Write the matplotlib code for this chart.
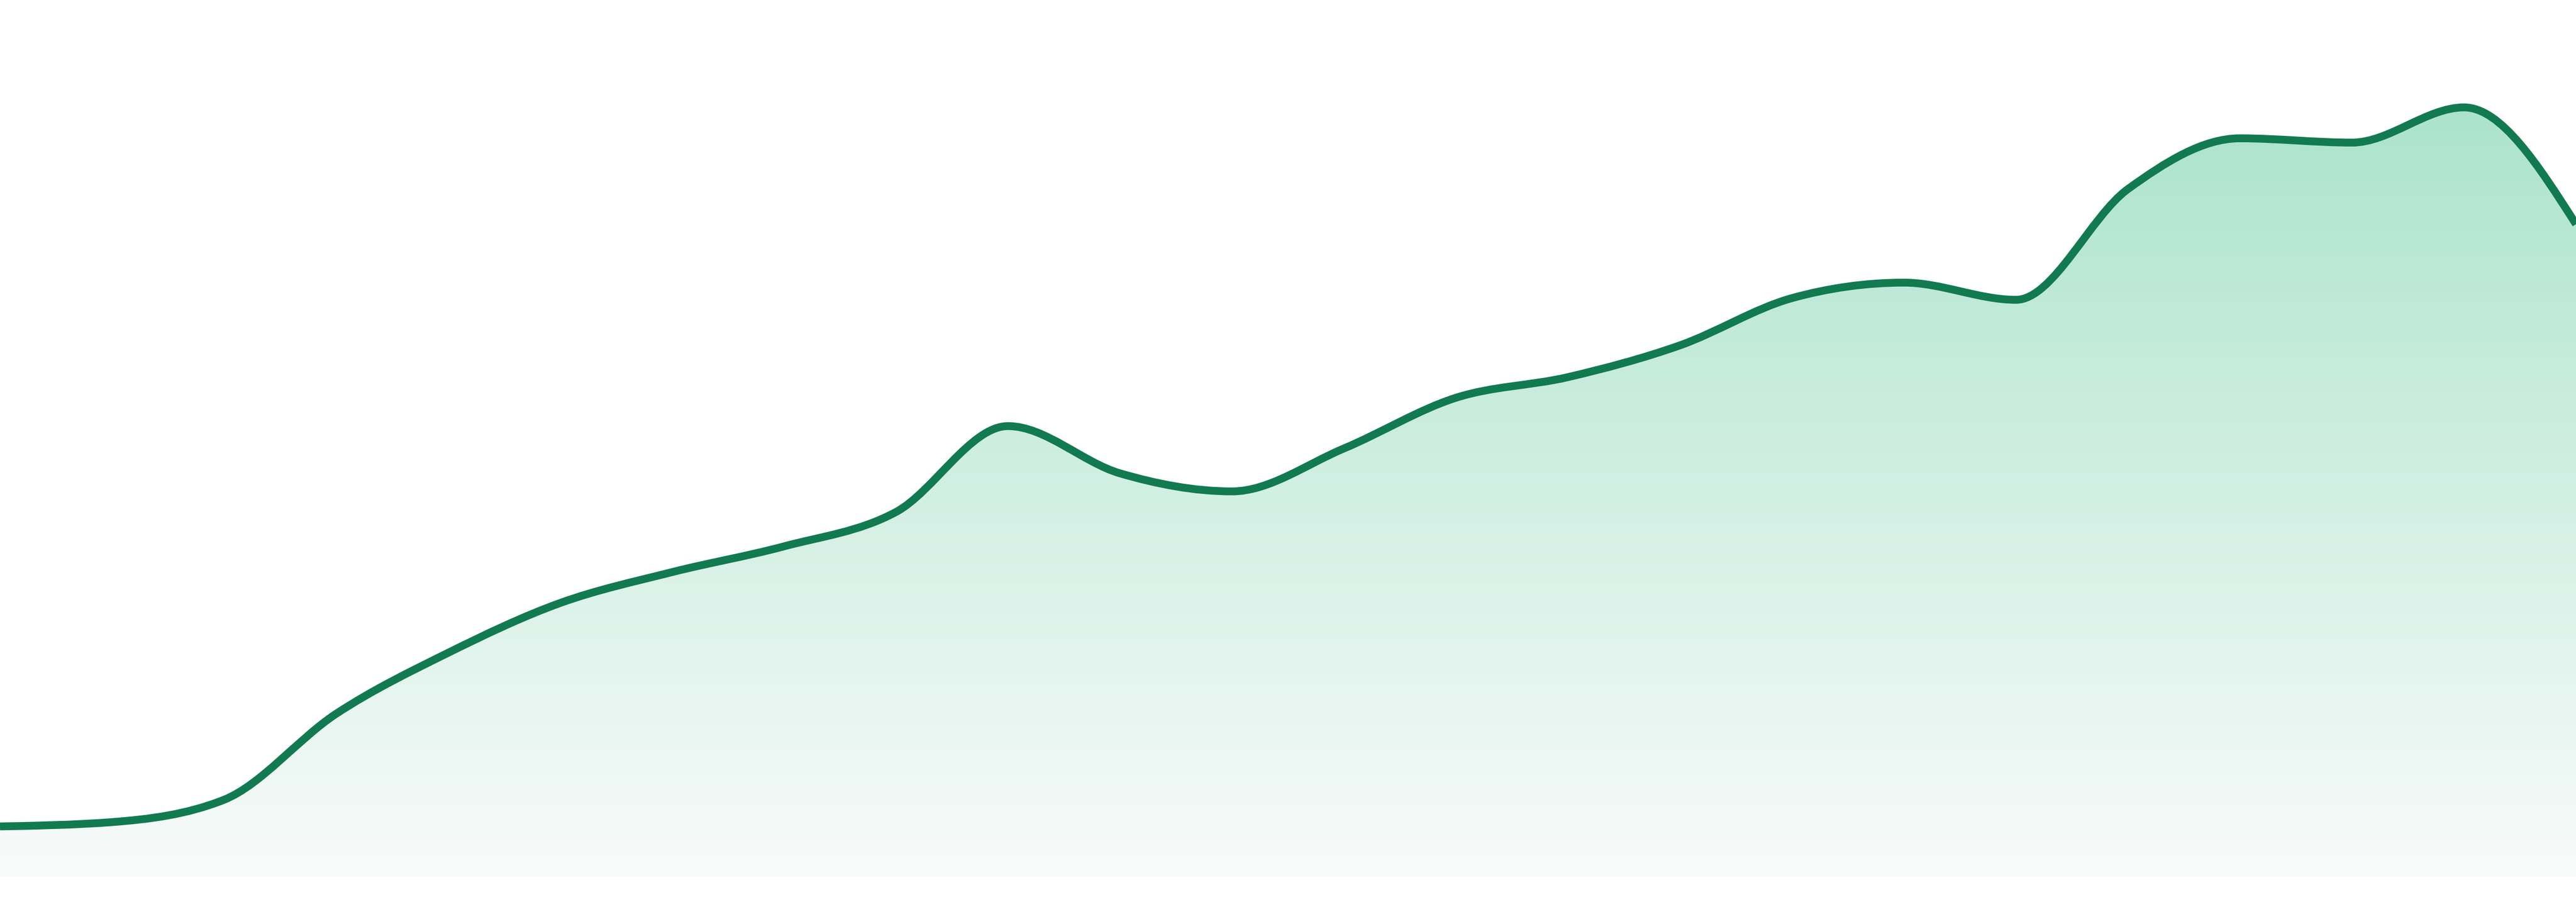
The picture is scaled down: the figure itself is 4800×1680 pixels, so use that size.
import numpy as np
import matplotlib
matplotlib.use("Agg")
import matplotlib.pyplot as plt
from matplotlib.path import Path
from matplotlib.patches import PathPatch
from matplotlib.colors import LinearSegmentedColormap

# ---- data ----
points = list(range(24))
values = [5.8, 6.3, 8.9, 18.9, 26.0, 31.8, 35.4, 38.4, 42.4, 52.4, 46.9, 44.8,
          49.8, 55.7, 58.1, 61.8, 67.3, 69.1, 67.1, 80.0, 85.9, 85.4, 89.5, 75.9]

line_color = "#117a50"
grad_top = "#a1e0c7"
grad_bottom = "#f8fbfa"

x = np.asarray(points, dtype=float)
y = np.asarray(values, dtype=float)


def monotone_tangents(x, y):
    n = len(x)
    t = np.zeros(n)
    for i in range(1, n - 1):
        h0 = x[i] - x[i - 1]
        h1 = x[i + 1] - x[i]
        s0 = (y[i] - y[i - 1]) / h0
        s1 = (y[i + 1] - y[i]) / h1
        p = (s0 * h1 + s1 * h0) / (h0 + h1)
        t[i] = (np.sign(s0) + np.sign(s1)) * min(abs(s0), abs(s1), 0.5 * abs(p))
    h = x[1] - x[0]
    t[0] = (3 * (y[1] - y[0]) / h - t[1]) / 2
    h = x[-1] - x[-2]
    t[-1] = (3 * (y[-1] - y[-2]) / h - t[-2]) / 2
    return t


t = monotone_tangents(x, y)
verts = [(x[0], y[0])]
codes = [Path.MOVETO]
for i in range(len(x) - 1):
    dx = (x[i + 1] - x[i]) / 3
    verts += [(x[i] + dx, y[i] + dx * t[i]),
              (x[i + 1] - dx, y[i + 1] - dx * t[i + 1]),
              (x[i + 1], y[i + 1])]
    codes += [Path.CURVE4] * 3

line_path = Path(verts, codes)
fill_verts = verts + [(x[-1], 0), (x[0], 0), (x[0], y[0])]
fill_codes = codes + [Path.LINETO, Path.LINETO, Path.CLOSEPOLY]
fill_path = Path(fill_verts, fill_codes)

# ---- figure ----
fig = plt.figure(figsize=(48, 16.8), dpi=100)
fig.patch.set_facecolor("white")
ax = fig.add_axes([0, 48 / 1680, 1, 1632 / 1680])
ax.set_xlim(x[0], x[-1])
ymax = 102
ax.set_ylim(0, ymax)
ax.axis("off")

cmap = LinearSegmentedColormap.from_list("g", [grad_bottom, grad_top])
grad = np.linspace(0, 1, 512).reshape(-1, 1)
im = ax.imshow(grad, cmap=cmap, origin="lower", aspect="auto",
               extent=[x[0], x[-1], 0, ymax], zorder=1, interpolation="bilinear")
clip = PathPatch(fill_path, facecolor="none", edgecolor="none", transform=ax.transData)
ax.add_patch(clip)
im.set_clip_path(clip)

ax.add_patch(PathPatch(line_path, facecolor="none", edgecolor=line_color,
                       linewidth=10.5, capstyle="butt", joinstyle="round", zorder=3))

fig.savefig("out.png", dpi=100, facecolor="white")
